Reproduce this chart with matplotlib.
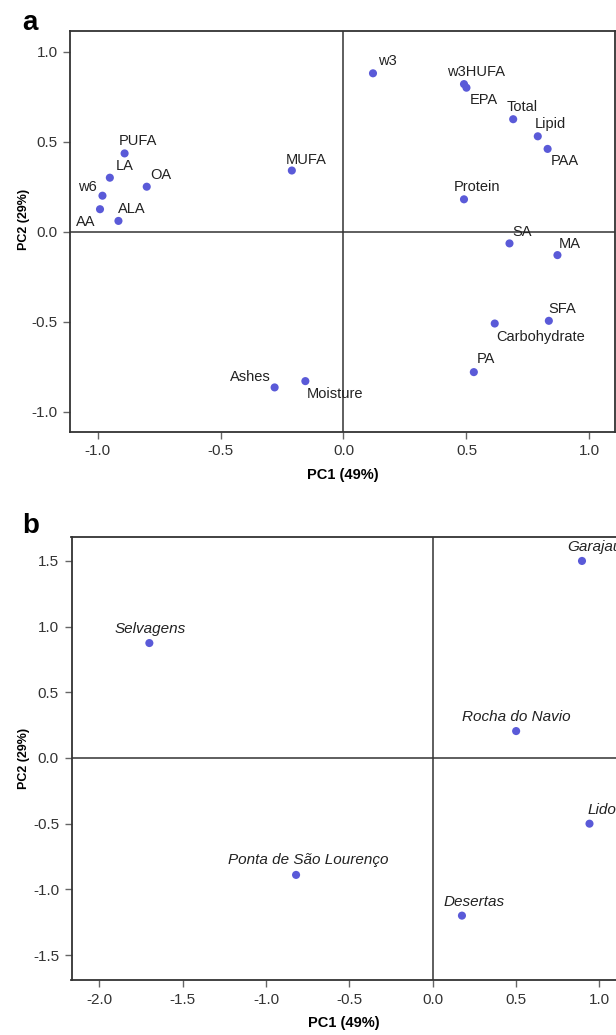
import matplotlib
matplotlib.use('Agg')
import matplotlib.pyplot as plt
from matplotlib.ticker import FormatStrFormatter, MultipleLocator

plt.rcParams['font.family'] = ['Liberation Sans', 'DejaVu Sans']
plt.rcParams['axes.unicode_minus'] = False

# panel a - variable loadings on PC1 / PC2
var_names = ['w3', 'w3HUFA', 'EPA', 'Total', 'Lipid', 'PAA', 'PUFA', 'MUFA',
             'LA', 'OA', 'w6', 'AA', 'ALA', 'Protein', 'SA', 'MA', 'SFA',
             'Carbohydrate', 'PA', 'Ashes', 'Moisture']
var_pc1 = [0.12, 0.49, 0.50, 0.69, 0.79, 0.83, -0.89, -0.21,
           -0.95, -0.80, -0.98, -0.99, -0.915, 0.49, 0.675, 0.87, 0.835,
           0.615, 0.53, -0.28, -0.155]
var_pc2 = [0.88, 0.82, 0.80, 0.625, 0.53, 0.46, 0.435, 0.34,
           0.30, 0.25, 0.20, 0.125, 0.06, 0.18, -0.065, -0.13, -0.495,
           -0.51, -0.78, -0.865, -0.83]

# panel b - sampling sites scores
site_names = ['Garajau', 'Selvagens', 'Rocha do Navio', 'Lido',
              'Ponta de São Lourenço', 'Desertas']
site_pc1 = [0.895, -1.70, 0.50, 0.94, -0.82, 0.175]
site_pc2 = [1.50, 0.875, 0.205, -0.50, -0.89, -1.20]

# label offsets (pixels) from each point
off_a = {'w3': (14, 12), 'w3HUFA': (12, 12), 'EPA': (17, -12), 'Total': (9, 12),
         'Lipid': (13, 12), 'PAA': (17, -12), 'PUFA': (13, 12), 'MUFA': (14, 11),
         'LA': (15, 12), 'OA': (14, 12), 'w6': (-15, 9), 'AA': (-14, -13),
         'ALA': (13, 12), 'Protein': (13, 12), 'SA': (13, 11), 'MA': (12, 11),
         'SFA': (13, 12), 'Carbohydrate': (46, -13), 'PA': (12, 13),
         'Ashes': (-24, 10), 'Moisture': (30, -13)}
off_b = {'Garajau': (12, 14), 'Selvagens': (1, 14), 'Rocha do Navio': (0, 14),
         'Lido': (12, 14), 'Ponta de São Lourenço': (12, 15), 'Desertas': (12, 14)}

W, H = 616, 1035
fig = plt.figure(figsize=(W / 100, H / 100), dpi=100)


def px_axes(l, t, r, b):
    return fig.add_axes([l / W, 1 - b / H, (r - l) / W, (b - t) / H])


def style(ax):
    for s in ax.spines.values():
        s.set_color('#333333')
        s.set_linewidth(1.3)
    ax.axhline(0, color='#333333', lw=1.1, zorder=1)
    ax.axvline(0, color='#333333', lw=1.1, zorder=1)
    ax.tick_params(direction='out', length=5, width=1, color='#666666',
                   labelsize=11, labelcolor='#333333', pad=4)
    ax.xaxis.set_major_locator(MultipleLocator(0.5))
    ax.yaxis.set_major_locator(MultipleLocator(0.5))
    ax.xaxis.set_major_formatter(FormatStrFormatter('%.1f'))
    ax.yaxis.set_major_formatter(FormatStrFormatter('%.1f'))
    ax.set_xlabel('PC1 (49%)', fontsize=10.5, fontweight='bold', labelpad=7)
    ax.set_ylabel('PC2 (29%)', fontsize=9, fontweight='bold')


pt_color = '#5a5ad8'

ax1 = px_axes(70, 31, 615, 431.7)
style(ax1)
ax1.scatter(var_pc1, var_pc2, s=34, color=pt_color, edgecolors='none', zorder=3)
for n, x, y in zip(var_names, var_pc1, var_pc2):
    ax1.annotate(n, (x, y), xytext=off_a[n], textcoords='offset pixels',
                 ha='center', va='center', fontsize=10.5, color='#222222')
ax1.set_xlim(-1.112, 1.104)
ax1.set_ylim(-1.111, 1.115)
ax1.yaxis.set_label_coords(-0.073, 0.53)

ax2 = px_axes(71.5, 537.3, 617, 980)
style(ax2)
ax2.scatter(site_pc1, site_pc2, s=34, color=pt_color, edgecolors='none', zorder=3)
for n, x, y in zip(site_names, site_pc1, site_pc2):
    ax2.annotate(n, (x, y), xytext=off_b[n], textcoords='offset pixels',
                 ha='center', va='center', fontsize=11, style='italic',
                 color='#222222', annotation_clip=False)
ax2.set_xlim(-2.167, 1.105)
ax2.set_ylim(-1.69, 1.68)
ax2.yaxis.set_label_coords(-0.076, 0.5)

fig.text(22 / W, 1 - 30 / H, 'a', fontsize=20, fontweight='bold')
fig.text(22 / W, 1 - 533 / H, 'b', fontsize=20, fontweight='bold')

fig.savefig('out.png', dpi=100)
